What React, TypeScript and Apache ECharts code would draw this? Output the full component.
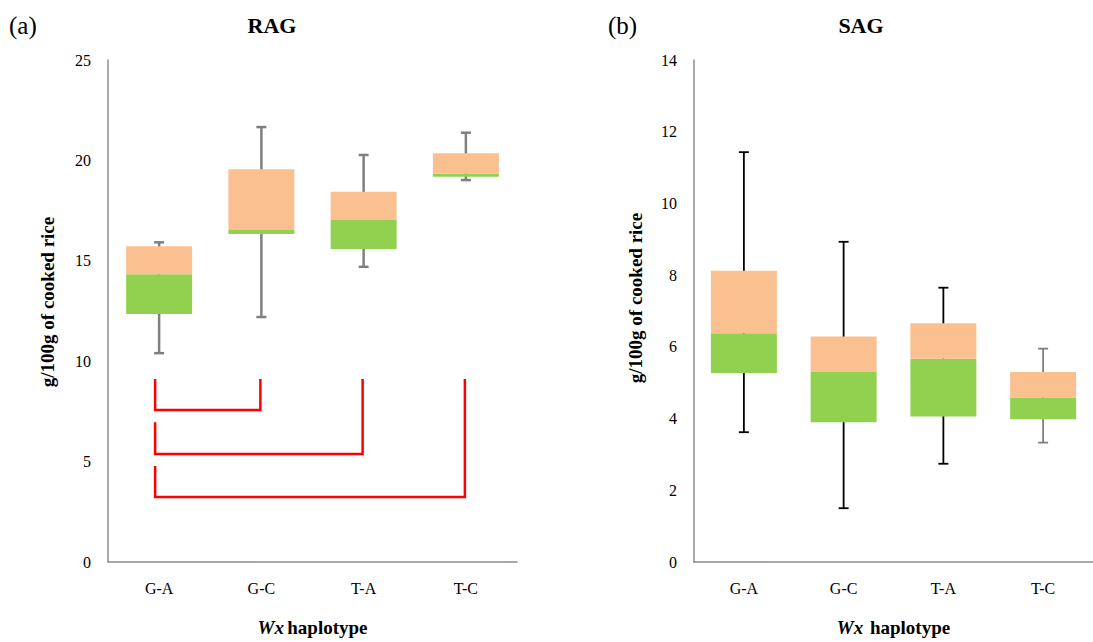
import React, { useEffect, useRef } from "react";
import * as echarts from "echarts";

const categories = ["G-A", "G-C", "T-A", "T-C"];
const yTicksRag = { min: 0, max: 25, interval: 5 };
const yTicksSag = { min: 0, max: 14, interval: 2 };

const ragMin = [10.4, 12.2, 14.7, 19.02];
const ragQ1 = [12.35, 16.33, 15.59, 19.19];
const ragMedian = [14.33, 16.53, 17.03, 19.34];
const ragQ3 = [15.72, 19.56, 18.44, 20.35];
const ragMax = [15.92, 21.66, 20.27, 21.38];

const sagMin = [3.62, 1.5, 2.74, 3.33];
const sagQ1 = [5.27, 3.9, 4.06, 3.98];
const sagMedian = [6.38, 5.3, 5.67, 4.59];
const sagQ3 = [8.12, 6.29, 6.66, 5.3];
const sagMax = [11.43, 8.93, 7.65, 5.95];

const bracketFrom = [0, 0, 0];
const bracketTo = [1, 2, 3];
const bracketLeftTop = [9.11, 6.96, 4.78];
const bracketRightTop = [9.11, 9.11, 9.11];
const bracketBase = [7.57, 5.38, 3.24];

const ORANGE = "#FAC090";
const GREEN = "#92D050";
const AXIS = "#8c8c8c";
const FONT = "Liberation Serif";

function boxSeries(
  gi: number,
  q1: number[],
  med: number[],
  q3: number[],
  mn: number[],
  mx: number[],
  whiskerColors: string[],
  whiskerWidth: number
) {
  const stack = "box" + gi;
  return [
    {
      type: "custom",
      xAxisIndex: gi,
      yAxisIndex: gi,
      z: 1,
      encode: { x: 0, y: [1, 2] },
      data: categories.map((_, i) => [i, mn[i], mx[i]]),
      renderItem: (params: any, api: any) => {
        const i = api.value(0);
        const lo = api.coord([i, api.value(1)]);
        const hi = api.coord([i, api.value(2)]);
        const col = whiskerColors[params.dataIndex];
        const style = { stroke: col, lineWidth: whiskerWidth };
        const cap = 5;
        return {
          type: "group",
          children: [
            { type: "line", shape: { x1: lo[0], y1: lo[1], x2: hi[0], y2: hi[1] }, style },
            { type: "line", shape: { x1: lo[0] - cap, y1: lo[1], x2: lo[0] + cap, y2: lo[1] }, style },
            { type: "line", shape: { x1: hi[0] - cap, y1: hi[1], x2: hi[0] + cap, y2: hi[1] }, style },
          ],
        };
      },
    },
    {
      type: "bar",
      xAxisIndex: gi,
      yAxisIndex: gi,
      stack,
      barWidth: 66,
      z: 2,
      itemStyle: { color: "rgba(0,0,0,0)" },
      data: q1,
    },
    {
      type: "bar",
      xAxisIndex: gi,
      yAxisIndex: gi,
      stack,
      barWidth: 66,
      z: 2,
      itemStyle: { color: GREEN },
      data: med.map((m, i) => +(m - q1[i]).toFixed(3)),
    },
    {
      type: "bar",
      xAxisIndex: gi,
      yAxisIndex: gi,
      stack,
      barWidth: 66,
      z: 2,
      itemStyle: { color: ORANGE },
      data: q3.map((q, i) => +(q - med[i]).toFixed(3)),
    },
  ];
}

function txt(text: string, size: number, bold: boolean, extra: any = {}) {
  return {
    text,
    fontFamily: FONT,
    fontSize: size,
    fontWeight: bold ? "bold" : "normal",
    fill: "#000",
    ...extra,
  };
}

export default function App() {
  const ref = useRef<HTMLDivElement>(null);
  useEffect(() => {
    document.body.style.margin = "0";
    if (!ref.current) return;
    const chart = echarts.init(ref.current, null, { renderer: "svg" });
    const axisLabelStyle = { fontFamily: FONT, fontSize: 16, color: "#000" };
    const catAxis = (gi: number) => ({
      type: "category",
      gridIndex: gi,
      data: categories,
      axisTick: { show: false },
      axisLine: { lineStyle: { color: AXIS, width: 1.5 } },
      axisLabel: { ...axisLabelStyle, margin: 18 },
      name: "{i|Wx}" + (gi === 0 ? " " : "  ") + "{b|haplotype}",
      nameLocation: "middle",
      nameGap: 56,
      nameTextStyle: {
        rich: {
          i: { fontFamily: FONT, fontSize: 19, fontStyle: "italic", fontWeight: "bold", color: "#000" },
          b: { fontFamily: FONT, fontSize: 19, fontWeight: "bold", color: "#000" },
        },
      },
    });
    const valAxis = (gi: number, t: any) => ({
      type: "value",
      gridIndex: gi,
      min: t.min,
      max: t.max,
      interval: t.interval,
      splitLine: { show: false },
      axisTick: { show: false },
      axisLine: { show: true, lineStyle: { color: AXIS, width: 1.5 } },
      axisLabel: { ...axisLabelStyle, margin: 17 },
    });

    const option: any = {
      animation: false,
      backgroundColor: "#fff",
      grid: [
        { left: 108, top: 60, width: 409, height: 502 },
        { left: 694, top: 60, width: 408, height: 502 },
      ],
      xAxis: [catAxis(0), catAxis(1)],
      yAxis: [valAxis(0, yTicksRag), valAxis(1, yTicksSag)],
      graphic: [
        { type: "text", x: 9, y: 25, style: txt("(a)", 25, false, { align: "left", verticalAlign: "middle" }) },
        { type: "text", x: 608, y: 25, style: txt("(b)", 25, false, { align: "left", verticalAlign: "middle" }) },
        { type: "text", x: 272, y: 25, style: txt("RAG", 22, true, { align: "center", verticalAlign: "middle" }) },
        { type: "text", x: 861, y: 25, style: txt("SAG", 22, true, { align: "center", verticalAlign: "middle" }) },
        { type: "text", x: 47, y: 302, rotation: Math.PI / 2, style: txt("g/100g of cooked rice", 19, true, { align: "center", verticalAlign: "middle" }) },
        { type: "text", x: 635, y: 298, rotation: Math.PI / 2, style: txt("g/100g of cooked rice", 19, true, { align: "center", verticalAlign: "middle" }) },
      ],
      series: [
        ...boxSeries(0, ragQ1, ragMedian, ragQ3, ragMin, ragMax, ["#7f7f7f", "#7f7f7f", "#7f7f7f", "#7f7f7f"], 2.5),
        ...boxSeries(1, sagQ1, sagMedian, sagQ3, sagMin, sagMax, ["#000", "#000", "#000", "#7f7f7f"], 1.8),
        {
          type: "custom",
          xAxisIndex: 0,
          yAxisIndex: 0,
          z: 3,
          encode: { x: [0, 1], y: [2, 3, 4] },
          data: bracketFrom.map((f, i) => [f, bracketTo[i], bracketLeftTop[i], bracketRightTop[i], bracketBase[i]]),
          renderItem: (params: any, api: any) => {
            const a = api.coord([api.value(0), api.value(2)]);
            const b = api.coord([api.value(0), api.value(4)]);
            const c = api.coord([api.value(1), api.value(4)]);
            const d = api.coord([api.value(1), api.value(3)]);
            const off = -4;
            return {
              type: "polyline",
              shape: {
                points: [
                  [a[0] + off, a[1]],
                  [b[0] + off, b[1]],
                  [c[0] - 1, c[1]],
                  [d[0] - 1, d[1]],
                ],
              },
              style: { stroke: "#ff0000", lineWidth: 2.5, fill: "none" },
            };
          },
        },
      ],
    };
    chart.setOption(option);
    return () => chart.dispose();
  }, []);
  return <div ref={ref} style={{ width: 1093, height: 642 }} />;
}
